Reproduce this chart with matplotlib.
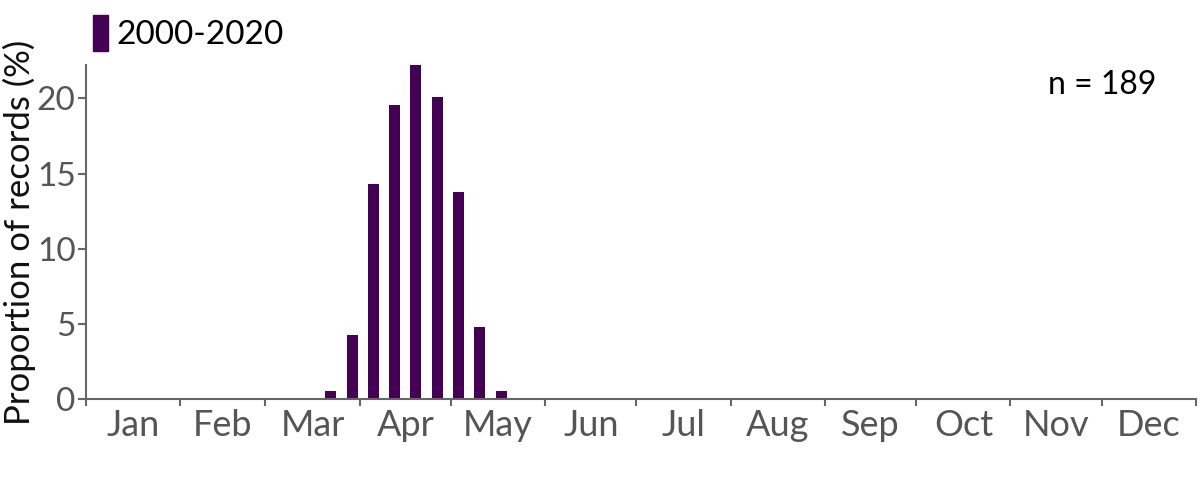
import matplotlib
matplotlib.use("Agg")
from matplotlib import pyplot as plt
from matplotlib.patches import Patch

# weekly record counts (weeks of the year, 1-based), 2000-2020
weeks = [12, 13, 14, 15, 16, 17, 18, 19, 20]
counts = [1, 8, 27, 37, 42, 38, 26, 9, 1]
n_records = 189

months = ['Jan', 'Feb', 'Mar', 'Apr', 'May', 'Jun',
          'Jul', 'Aug', 'Sep', 'Oct', 'Nov', 'Dec']
month_days = [31, 28, 31, 30, 31, 30, 31, 31, 30, 31, 30, 31]
series_label = '2000-2020'

bar_color = '#440154'
axis_color = '#666666'
tick_text = '#555555'

plt.rcParams['font.family'] = ['Lato', 'DejaVu Sans']

# week centres in day-of-year, proportions in %
x = [7 * (w - 1) + 3.5 for w in weeks]
pct = [100 * c / n_records for c in counts]

month_edges = [0]
for d in month_days:
    month_edges.append(month_edges[-1] + d)
month_mids = [(a + b) / 2 for a, b in zip(month_edges[:-1], month_edges[1:])]

fig = plt.figure(figsize=(12, 4.8), dpi=100)
ax = fig.add_axes([86 / 1200, 81 / 480, 1110 / 1200, 334 / 480])

ax.bar(x, pct, width=3.6, color=bar_color)

ax.set_xlim(0, 365)
ax.set_ylim(0, max(pct))

ax.set_xticks(month_edges)
ax.set_xticklabels([])
ax.set_xticks(month_mids, minor=True)
ax.set_xticklabels(months, minor=True)
ax.tick_params(axis='x', which='major', length=5, width=1.5, color=axis_color, direction='out')
ax.tick_params(axis='x', which='minor', length=0, pad=7, labelsize=26, labelcolor=tick_text)

ax.set_yticks([0, 5, 10, 15, 20])
ax.tick_params(axis='y', length=6, width=1.5, color=axis_color, pad=1.5,
               labelsize=24, labelcolor=tick_text)

for side in ['top', 'right']:
    ax.spines[side].set_visible(False)
for side in ['left', 'bottom']:
    ax.spines[side].set_color(axis_color)
    ax.spines[side].set_linewidth(1.5)

ax.set_ylabel('Proportion of records (%)', fontsize=25, color='#111111')
ax.yaxis.set_label_coords(-0.045, 0.5)

ax.text(0.964, 0.94, f'n = {n_records}', transform=ax.transAxes,
        ha='right', va='center', fontsize=23, color='black')

leg = fig.legend(handles=[Patch(color=bar_color, label=series_label)],
                 loc='center left', bbox_to_anchor=(93 / 1200, 447 / 480),
                 frameon=False, fontsize=24, handlelength=0.45, handleheight=1.3,
                 handletextpad=0.25, borderaxespad=0, borderpad=0)

fig.savefig('out.png', dpi=100)
